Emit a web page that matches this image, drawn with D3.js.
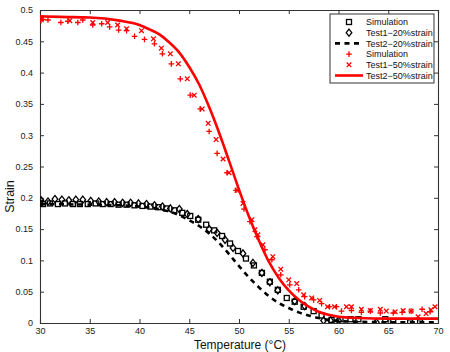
<!DOCTYPE html>
<html>
<head>
<meta charset="utf-8">
<script src="https://cdn.jsdelivr.net/npm/d3@7"></script>
<style>
  body { margin: 0; background: #fff; }
  svg { font-family: "Liberation Sans", Arial, sans-serif; }
  .axis path, .axis line { stroke: #333; }
  .axis text { font-size: 9px; fill: #222; }
</style>
</head>
<body>
<svg id="chart" width="450" height="352"></svg>
<script>
// Simulation, 20% strain (squares)
let sim20T = [30.0, 30.3, 31.0, 31.8, 32.5, 33.3, 34.0, 34.8, 35.6, 36.3, 37.1, 37.9, 38.7, 39.5, 40.3, 41.1, 41.9, 42.7, 43.5, 44.3, 45.1, 45.9, 46.7, 47.5, 48.3, 49.1, 49.9, 50.7, 51.5, 52.3, 53.1, 53.9, 54.8, 55.6, 56.5, 57.5, 58.3, 59.3, 60.2, 61.2, 62.0, 64.7, 65.5, 67.2, 68.2]
let sim20S = [0.192, 0.190, 0.191, 0.190, 0.191, 0.190, 0.190, 0.190, 0.191, 0.190, 0.190, 0.189, 0.189, 0.188, 0.187, 0.186, 0.185, 0.183, 0.180, 0.176, 0.171, 0.165, 0.157, 0.148, 0.139, 0.127, 0.115, 0.103, 0.092, 0.080, 0.066, 0.053, 0.040, 0.034, 0.026, 0.019, 0.012, 0.005, 0.006, 0.006, 0.006, 0.006, 0.003, 0.001, 0.001]

// Test1, 20% strain (diamonds)
let test1_20T = [30.1, 30.8, 31.5, 32.2, 32.9, 33.6, 34.3, 35.1, 35.9, 36.7, 37.5, 38.3, 39.1, 39.9, 40.7, 41.5, 42.3, 43.1, 44.0, 44.8, 45.9, 47.0, 47.8, 48.6, 49.4, 50.4, 51.4, 52.3, 53.1, 53.9, 55.6, 56.6, 58.5, 59.2, 60.0, 63.8]
let test1_20S = [0.196, 0.194, 0.198, 0.197, 0.196, 0.197, 0.197, 0.195, 0.194, 0.193, 0.193, 0.192, 0.192, 0.191, 0.190, 0.188, 0.186, 0.183, 0.182, 0.174, 0.166, 0.150, 0.144, 0.133, 0.120, 0.111, 0.096, 0.080, 0.065, 0.052, 0.035, 0.027, 0.004, 0.004, 0.004, 0.001]

// Test2, 20% strain (dashed curve)
let test2_20T = [30, 35, 38, 40, 42, 43, 44, 45, 46, 47, 48, 49, 50, 51, 52, 53, 54, 55, 56, 57, 58, 59, 60, 62, 66, 70]
let test2_20S = [0.190, 0.189, 0.188, 0.186, 0.182, 0.178, 0.172, 0.164, 0.155, 0.143, 0.128, 0.110, 0.091, 0.073, 0.057, 0.043, 0.032, 0.024, 0.017, 0.012, 0.008, 0.005, 0.003, 0.002, 0.001, 0.001]

// Simulation, 50% strain (plus)
let sim50T = [30.1, 30.3, 30.8, 32.1, 32.8, 33.8, 34.3, 35.3, 36.2, 37.0, 37.9, 38.7, 39.5, 40.5, 41.5, 42.3, 43.2, 44.1, 45.1, 46.1, 47.0, 47.8, 48.8, 49.7, 50.5, 51.1, 51.8, 52.6, 53.3, 54.2, 55.1, 56.0, 56.6, 57.5, 58.3, 59.1, 59.8, 60.3, 61.3, 62.3, 63.2, 64.2, 65.5, 66.4, 67.3, 68.4, 69.2]
let sim50S = [0.483, 0.485, 0.484, 0.480, 0.482, 0.480, 0.484, 0.476, 0.478, 0.473, 0.468, 0.467, 0.458, 0.453, 0.446, 0.430, 0.414, 0.390, 0.364, 0.342, 0.306, 0.271, 0.240, 0.212, 0.182, 0.162, 0.138, 0.117, 0.101, 0.077, 0.061, 0.053, 0.042, 0.037, 0.031, 0.026, 0.026, 0.019, 0.020, 0.017, 0.019, 0.016, 0.016, 0.017, 0.019, 0.022, 0.018]

// Test1, 50% strain (cross)
let test1_50T = [30.2, 33.0, 35.3, 36.8, 37.8, 38.7, 40.2, 41.4, 42.2, 43.1, 43.9, 44.8, 45.5, 46.3, 46.9, 47.7, 48.4, 49.0, 49.8, 50.4, 51.3, 51.6, 51.9, 52.4, 53.4, 54.2, 55.0, 55.8, 56.5, 57.3, 58.1, 58.9, 59.6, 60.8, 61.3, 62.3, 63.2, 64.2, 64.8, 65.7, 66.5, 67.3, 68.0, 68.8, 69.3, 69.7]
let test1_50S = [0.487, 0.483, 0.480, 0.480, 0.476, 0.470, 0.467, 0.454, 0.439, 0.430, 0.414, 0.390, 0.364, 0.342, 0.319, 0.293, 0.262, 0.240, 0.212, 0.191, 0.165, 0.149, 0.141, 0.125, 0.106, 0.086, 0.069, 0.063, 0.045, 0.040, 0.036, 0.026, 0.026, 0.026, 0.026, 0.022, 0.020, 0.022, 0.019, 0.018, 0.020, 0.019, 0.010, 0.015, 0.021, 0.026]

// Test2, 50% strain (solid curve)
let test2_50T = [30, 32, 35, 38, 40, 41, 42, 43, 44, 45, 46, 47, 48, 49, 50, 51, 52, 53, 54, 55, 56, 57, 58, 59, 60, 62, 65, 70]
let test2_50S = [0.490, 0.489, 0.488, 0.483, 0.476, 0.469, 0.461, 0.448, 0.432, 0.409, 0.381, 0.345, 0.304, 0.259, 0.213, 0.170, 0.132, 0.098, 0.072, 0.052, 0.037, 0.026, 0.018, 0.013, 0.010, 0.008, 0.007, 0.007]

let xTicks = [30, 35, 40, 45, 50, 55, 60, 65, 70]
let yTicks = [0, 0.05, 0.1, 0.15, 0.2, 0.25, 0.3, 0.35, 0.4, 0.45, 0.5]

let zip = (ts, ss) => ts.map((t, i) => ({ t: t, s: ss[i] }))

let margin = { top: 10, right: 12, bottom: 29, left: 40 }
let width = 450 - margin.left - margin.right
let height = 352 - margin.top - margin.bottom

let svg = d3.select('#chart')
let chart = svg.append('g')
    .attr('transform', 'translate(' + margin.left + ',' + margin.top + ')')

let x = d3.scaleLinear().domain([30, 70]).range([0, width])
let y = d3.scaleLinear().domain([0, 0.5]).range([height, 0])

let fmt = d => d3.format('~g')(d)

// axes, ticks pointing inward, box on all sides
chart.append('g').attr('class', 'axis')
    .attr('transform', 'translate(0,' + height + ')')
    .call(d3.axisBottom(x).tickValues(xTicks).tickSize(-4).tickPadding(5).tickFormat(fmt))
chart.append('g').attr('class', 'axis')
    .call(d3.axisLeft(y).tickValues(yTicks).tickSize(-4).tickPadding(7).tickFormat(fmt))
chart.append('g').attr('class', 'axis')
    .call(d3.axisTop(x).tickValues(xTicks).tickSize(-4).tickFormat(''))
chart.append('g').attr('class', 'axis')
    .attr('transform', 'translate(' + width + ',0)')
    .call(d3.axisRight(y).tickValues(yTicks).tickSize(-4).tickFormat(''))

chart.selectAll('.axis .domain').attr('stroke-width', 1.1)

// clip marks to plot area
svg.append('defs').append('clipPath').attr('id', 'clip')
    .append('rect').attr('width', width).attr('height', height)
let plot = chart.append('g').attr('clip-path', 'url(#clip)')

let line = d3.line().x(d => x(d.t)).y(d => y(d.s)).curve(d3.curveMonotoneX)

plot.append('path')
    .datum(zip(test2_20T, test2_20S))
    .attr('d', line)
    .attr('fill', 'none')
    .attr('stroke', '#000')
    .attr('stroke-width', 2.6)
    .attr('stroke-dasharray', '5,4.5')

// marker shapes
function square(g, c) {
  g.append('rect').attr('x', -2.5).attr('y', -2.5).attr('width', 5).attr('height', 5)
    .attr('fill', 'none').attr('stroke', c).attr('stroke-width', 1.3)
}
function diamond(g, c) {
  g.append('path').attr('d', 'M0,-3.6L2.8,0L0,3.6L-2.8,0Z')
    .attr('fill', 'none').attr('stroke', c).attr('stroke-width', 1.3)
}
function plus(g, c) {
  g.append('path').attr('d', 'M-2.8,0H2.8M0,-2.8V2.8')
    .attr('stroke', c).attr('stroke-width', 1.3)
}
function cross(g, c) {
  g.append('path').attr('d', 'M-2.3,-2.3L2.3,2.3M-2.3,2.3L2.3,-2.3')
    .attr('stroke', c).attr('stroke-width', 1.3)
}

function drawMarkers(data, shape, color) {
  plot.append('g').selectAll('g')
    .data(data)
    .enter()
    .append('g')
    .attr('transform', d => 'translate(' + x(d.t) + ',' + y(d.s) + ')')
    .each(function () { shape(d3.select(this), color) })
}

drawMarkers(zip(sim20T, sim20S), square, '#000')
drawMarkers(zip(test1_20T, test1_20S), diamond, '#000')
drawMarkers(zip(sim50T, sim50S), plus, '#ff0000')
drawMarkers(zip(test1_50T, test1_50S), cross, '#ff0000')

plot.append('path')
    .datum(zip(test2_50T, test2_50S))
    .attr('d', line)
    .attr('fill', 'none')
    .attr('stroke', '#ff0000')
    .attr('stroke-width', 2.6)

// axis labels
svg.append('text')
    .attr('x', 240).attr('y', 349)
    .attr('text-anchor', 'middle')
    .attr('font-size', 12)
    .attr('fill', '#111')
    .text('Temperature (°C)')

svg.append('text')
    .attr('transform', 'translate(14,' + (margin.top + height / 2 + 30) + ') rotate(-90)')
    .attr('text-anchor', 'middle')
    .attr('font-size', 12.5)
    .attr('fill', '#111')
    .text('Strain')

// legend
let legendItems = [
  { label: 'Simulation', shape: square, color: '#000', line: null },
  { label: 'Test1\u221220%strain', shape: diamond, color: '#000', line: null },
  { label: 'Test2\u221220%strain', shape: null, color: '#000', line: '5,4.5' },
  { label: 'Simulation', shape: plus, color: '#ff0000', line: null },
  { label: 'Test1\u221250%strain', shape: cross, color: '#ff0000', line: null },
  { label: 'Test2\u221250%strain', shape: null, color: '#ff0000', line: 'none' }
]

let legend = svg.append('g').attr('transform', 'translate(330,14)')
legend.append('rect')
    .attr('width', 104).attr('height', 69)
    .attr('fill', '#fff').attr('stroke', '#333').attr('stroke-width', 1)

let rows = legend.selectAll('.row')
    .data(legendItems)
    .enter()
    .append('g')
    .attr('class', 'row')
    .attr('transform', (d, i) => 'translate(0,' + (8 + i * 10.7) + ')')

rows.each(function (d) {
  let g = d3.select(this)
  if (d.line) {
    g.append('line').attr('x1', 5).attr('x2', 33)
      .attr('stroke', d.color).attr('stroke-width', 2.6)
      .attr('stroke-dasharray', d.line === 'none' ? null : d.line)
  } else {
    let m = g.append('g').attr('transform', 'translate(19,0)')
    d.shape(m, d.color)
  }
  g.append('text')
    .attr('x', 36).attr('y', 3.3)
    .attr('font-size', 9)
    .attr('fill', '#111')
    .text(d.label)
})
</script>
</body>
</html>
